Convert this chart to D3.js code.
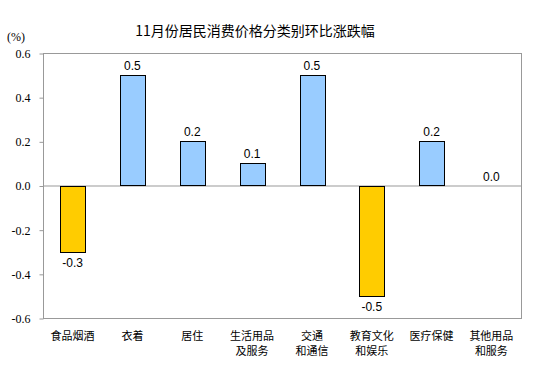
<!DOCTYPE html>
<html>
<head>
<meta charset="utf-8">
<script src="https://cdn.jsdelivr.net/npm/d3@7"></script>
<style>
  body { margin: 0; background: #fff; }
</style>
</head>
<body>
<div id="chart"></div>
<script>
const categories = [["食品烟酒"], ["衣着"], ["居住"], ["生活用品", "及服务"], ["交通", "和通信"], ["教育文化", "和娱乐"], ["医疗保健"], ["其他用品", "和服务"]];
const values = [-0.3, 0.5, 0.2, 0.1, 0.5, -0.5, 0.2, 0.0];
const yTicks = [-0.6, -0.4, -0.2, 0.0, 0.2, 0.4, 0.6];

const width = 554, height = 384;
const margin = { top: 53, right: 33, bottom: 66, left: 43 };

// hyphen instead of unicode minus, like the original
const fmt = d => d.toFixed(1);

const svg = d3.select("#chart").append("svg")
  .attr("width", width).attr("height", height);

const x = d3.scaleBand().domain(d3.range(categories.length))
  .range([margin.left, width - margin.right]).paddingInner(0.59).paddingOuter(0.29);
const y = d3.scaleLinear().domain([-0.6, 0.6]).range([height - margin.bottom, margin.top]);

const rows = values.map((v, i) => ({ v, i }));

// title
svg.append("text").attr("x", 255).attr("y", 36).attr("text-anchor", "middle")
  .style("font-family", "'Noto Sans CJK SC', sans-serif").style("font-size", "14px")
  .text("11月份居民消费价格分类别环比涨跌幅");

svg.append("text").attr("x", 7).attr("y", 41)
  .style("font-family", "'Liberation Serif', serif").style("font-size", "12px")
  .text("(%)");

// plot frame
svg.append("rect").attr("x", margin.left + 0.5).attr("y", y(0.6) + 0.5)
  .attr("width", width - margin.right - margin.left).attr("height", y(-0.6) - y(0.6))
  .attr("fill", "none").attr("stroke", "#999");

// y axis
const yAxis = svg.append("g").attr("transform", `translate(${margin.left + 0.5},0.5)`)
  .call(d3.axisLeft(y).tickValues(yTicks).tickFormat(fmt).tickSize(4).tickPadding(9));
yAxis.attr("font-family", null).attr("font-size", null);
yAxis.select(".domain").remove();
yAxis.selectAll("line").attr("stroke", "#999");
yAxis.selectAll("text").attr("fill", "#000")
  .style("font-family", "'Liberation Serif', 'Times New Roman', serif").style("font-size", "12px");

// zero line
svg.append("line").attr("x1", margin.left).attr("x2", width - margin.right)
  .attr("y1", y(0) + 0.5).attr("y2", y(0) + 0.5).attr("stroke", "#999");

// bars
svg.append("g").selectAll("rect").data(rows.filter(d => d.v !== 0)).join("rect")
  .attr("x", d => Math.round(x(d.i)) + 0.5)
  .attr("y", d => Math.round(y(Math.max(0, d.v))) + 0.5)
  .attr("width", Math.round(x.bandwidth()))
  .attr("height", d => Math.round(Math.abs(y(d.v) - y(0))))
  .attr("fill", d => d.v < 0 ? "#ffcc00" : "#99ccff")
  .attr("stroke", "#000").attr("stroke-width", 1);

// value labels
svg.append("g").selectAll("text").data(rows).join("text")
  .attr("x", d => x(d.i) + x.bandwidth() / 2)
  .attr("y", d => d.v < 0 ? y(d.v) + 15 : y(d.v) - 5)
  .attr("text-anchor", "middle")
  .style("font-family", "'Liberation Sans', Arial, sans-serif").style("font-size", "12px")
  .text(d => fmt(d.v));

// category labels
const cat = svg.append("g").selectAll("text").data(categories).join("text")
  .attr("x", (d, i) => x(i) + x.bandwidth() / 2)
  .attr("y", 340)
  .attr("text-anchor", "middle")
  .style("font-family", "'Noto Sans CJK SC', sans-serif").style("font-size", "11px");
cat.selectAll("tspan").data(d => d).join("tspan")
  .attr("x", function () { return d3.select(this.parentNode).attr("x"); })
  .attr("dy", (d, i) => i === 0 ? 0 : 15)
  .text(d => d);
</script>
</body>
</html>
